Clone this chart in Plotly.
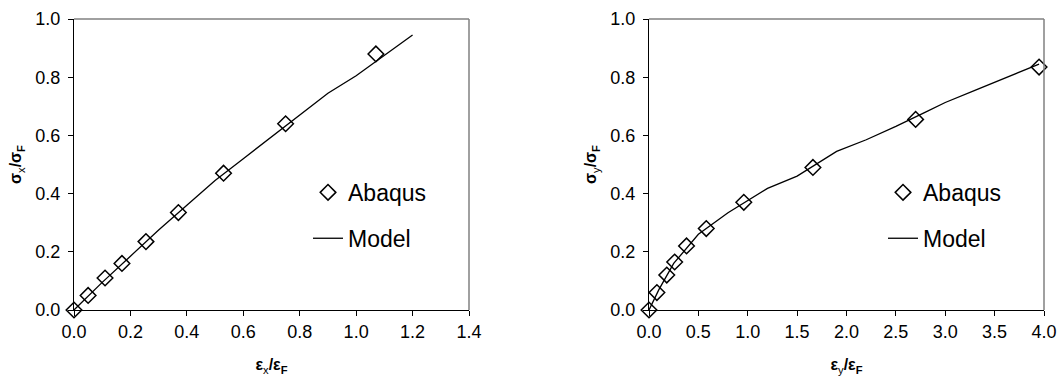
import plotly.graph_objects as go
from plotly.subplots import make_subplots

# Left panel: sigma_x / sigma_F vs eps_x / eps_F
abaqus_x_strain = [0.0, 0.05, 0.11, 0.17, 0.255, 0.37, 0.53, 0.75, 1.07]
abaqus_x_stress = [0.0, 0.05, 0.11, 0.16, 0.235, 0.335, 0.47, 0.64, 0.88]
model_x_strain = [0.0, 0.1, 0.2, 0.3, 0.4, 0.5, 0.6, 0.7, 0.8, 0.9, 1.0, 1.1, 1.2]
model_x_stress = [0.0, 0.095, 0.185, 0.275, 0.36, 0.445, 0.52, 0.595, 0.67, 0.745, 0.805, 0.875, 0.945]

# Right panel: sigma_y / sigma_F vs eps_y / eps_F
abaqus_y_strain = [0.0, 0.08, 0.18, 0.26, 0.38, 0.58, 0.96, 1.66, 2.70, 3.95]
abaqus_y_stress = [0.0, 0.06, 0.12, 0.165, 0.22, 0.28, 0.37, 0.49, 0.655, 0.835]
model_y_strain = [0.0, 0.1, 0.25, 0.5, 0.8, 1.0, 1.2, 1.5, 1.9, 2.2, 2.5, 2.8, 3.0, 3.3, 3.5, 3.7, 3.95]
model_y_stress = [0.0, 0.07, 0.16, 0.26, 0.334, 0.375, 0.418, 0.46, 0.545, 0.585, 0.631, 0.68, 0.713, 0.755, 0.782, 0.81, 0.845]

FONT = "Arial, Liberation Sans, sans-serif"

fig = make_subplots(rows=1, cols=2)

marker = dict(symbol="diamond-open", size=12, color="black", line=dict(width=1.5, color="black"))

fig.add_trace(go.Scatter(x=abaqus_x_strain, y=abaqus_x_stress, mode="markers", marker=marker, cliponaxis=False,
                         name="Abaqus", legend="legend", legendgroup="a"), row=1, col=1)
fig.add_trace(go.Scatter(x=model_x_strain, y=model_x_stress, mode="lines",
                         line=dict(color="black", width=1.3), name="Model", legend="legend", legendgroup="m"), row=1, col=1)
fig.add_trace(go.Scatter(x=abaqus_y_strain, y=abaqus_y_stress, mode="markers", marker=marker, cliponaxis=False,
                         name="Abaqus", legend="legend2", legendgroup="a2"), row=1, col=2)
fig.add_trace(go.Scatter(x=model_y_strain, y=model_y_stress, mode="lines",
                         line=dict(color="black", width=1.3), name="Model", legend="legend2", legendgroup="m2"), row=1, col=2)

W, H = 1064, 381
axis_common = dict(showline=True, linecolor="black", linewidth=1, ticks="outside", ticklen=5,
                   tickcolor="black", showgrid=False, zeroline=False, automargin=False,
                   tickfont=dict(family=FONT, size=18, color="black"))

fig.update_xaxes(**axis_common)
fig.update_yaxes(**axis_common)

xt = dict(size=16)
fig.update_layout(
    width=W, height=H,
    margin=dict(l=0, r=0, t=19, b=71),
    plot_bgcolor="white", paper_bgcolor="white",
    font=dict(family=FONT, color="black"),
    xaxis=dict(domain=[74 / W, 469 / W], range=[0, 1.4], dtick=0.2, tickformat=".1f",
               title=dict(text="<b>ε</b><sub>x</sub><b>/ε<sub>F</sub></b>", font=xt, standoff=18)),
    yaxis=dict(range=[0, 1.0], dtick=0.2, tickformat=".1f", ticklabelstandoff=4,
               title=dict(text="<b>σ</b><sub>x</sub><b>/σ<sub>F</sub></b>", font=xt, standoff=9)),
    xaxis2=dict(domain=[649 / W, 1044 / W], range=[0, 4.0], dtick=0.5, tickformat=".1f",
                title=dict(text="<b>ε</b><sub>y</sub><b>/ε<sub>F</sub></b>", font=xt, standoff=18)),
    yaxis2=dict(range=[0, 1.0], dtick=0.2, tickformat=".1f", ticklabelstandoff=4,
                title=dict(text="<b>σ</b><sub>y</sub><b>/σ<sub>F</sub></b>", font=xt, standoff=9)),
    legend=dict(x=308 / W, xref="paper", y=0.478, yanchor="top", bgcolor="rgba(0,0,0,0)",
                font=dict(family=FONT, size=23, color="black"), tracegroupgap=13, traceorder="grouped"),
    legend2=dict(x=883 / W, xref="paper", y=0.478, yanchor="top", bgcolor="rgba(0,0,0,0)",
                 font=dict(family=FONT, size=23, color="black"), tracegroupgap=13, traceorder="grouped"),
)

# gray top/right frame of each plot area
for xr, yr in (("x domain", "y domain"), ("x2 domain", "y2 domain")):
    fig.add_shape(type="line", xref=xr, yref=yr, x0=0, x1=1, y0=1, y1=1, line=dict(color="#808080", width=1.5))
    fig.add_shape(type="line", xref=xr, yref=yr, x0=1, x1=1, y0=0, y1=1, line=dict(color="#808080", width=1.5))

fig.write_html("out.html", config={"displayModeBar": False},
               post_script="document.body.style.margin='0';")
